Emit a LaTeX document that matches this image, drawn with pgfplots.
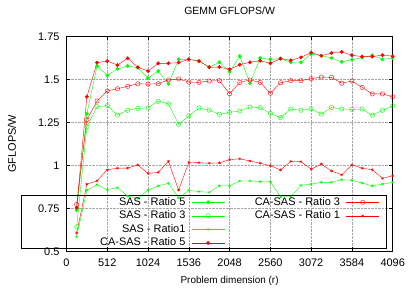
\documentclass[border=0pt]{standalone}
\usepackage{pgfplots}
\pgfplotsset{compat=1.18}
\usepackage{pgfplotstable}
\usepackage{fontspec}
\setmainfont{Liberation Sans}
\definecolor{gg}{RGB}{0,255,0}
\definecolor{rr}{RGB}{255,0,0}

% columns: x, SAS R5, SAS R3, SAS R1, CA-SAS R5, CA-SAS R3, CA-SAS R1
\pgfplotstableread{
x    s5    s3    s1    c5    c3    c1
128  0.740 0.643 0.585 0.754 0.772 0.607
256  1.300 1.224 0.856 1.399 1.265 0.890
384  1.577 1.341 0.887 1.597 1.374 0.910
512  1.523 1.347 0.858 1.606 1.432 0.974
640  1.560 1.292 0.870 1.583 1.445 0.983
768  1.577 1.320 0.821 1.622 1.459 0.984
896  1.567 1.331 0.808 1.570 1.474 1.002
1024 1.507 1.334 0.856 1.548 1.472 0.953
1152 1.547 1.372 0.881 1.593 1.474 0.959
1280 1.473 1.358 0.895 1.593 1.496 1.023
1408 1.616 1.238 0.810 1.597 1.502 0.856
1536 1.616 1.287 0.855 1.616 1.484 1.017
1664 1.606 1.333 0.847 1.606 1.482 1.015
1792 1.571 1.321 0.843 1.571 1.490 1.012
1920 1.599 1.296 0.881 1.571 1.492 1.014
2048 1.544 1.308 0.881 1.558 1.416 1.033
2176 1.635 1.316 0.909 1.585 1.482 1.038
2304 1.477 1.339 0.909 1.599 1.496 1.025
2432 1.624 1.335 0.905 1.608 1.482 1.012
2560 1.616 1.302 0.903 1.593 1.419 0.998
2688 1.620 1.277 0.817 1.620 1.480 0.973
2816 1.599 1.327 0.817 1.610 1.492 1.023
2944 1.599 1.320 0.884 1.628 1.492 1.021
3072 1.647 1.329 0.890 1.655 1.504 0.978
3200 1.637 1.298 0.901 1.637 1.513 1.007
3328 1.624 1.337 0.901 1.653 1.511 0.967
3456 1.601 1.327 0.916 1.659 1.477 0.945
3584 1.614 1.325 0.913 1.640 1.490 1.002
3712 1.626 1.327 0.897 1.632 1.453 0.983
3840 1.640 1.291 0.880 1.632 1.415 0.974
3968 1.616 1.320 0.891 1.641 1.415 0.924
4096 1.624 1.345 0.901 1.634 1.399 0.940
}\datatable

\pgfplotsset{
  sfive/.style={color=gg, line width=0.4bp, mark=*, mark size=1.7bp, mark options={fill=gg, draw=gg}},
  sthree/.style={color=gg, line width=0.4bp, mark=o, mark size=2.2bp, mark options={draw=gg}},
  sone/.style={color=gg, line width=0.4bp, mark=asterisk, mark size=1.5bp},
  cfive/.style={color=rr, line width=0.4bp, mark=*, mark size=1.7bp, mark options={fill=rr, draw=rr}},
  cthree/.style={color=rr, line width=0.4bp, mark=o, mark size=2.2bp, mark options={draw=rr}},
  cone/.style={color=rr, line width=0.4bp, mark=asterisk, mark size=1.5bp},
}

\begin{document}
\begin{tikzpicture}
\path[use as bounding box] (-66.5bp,-39.7bp) rectangle (348.5bp,251.3bp);
\begin{axis}[
  at={(0,0)}, anchor=south west,
  scale only axis,
  width=326.2bp, height=215bp,
  xmin=0, xmax=4096, ymin=0.5, ymax=1.75,
  xtick={0,512,...,4096},
  ytick={0.5,0.75,1,1.25,1.5,1.75},
  scaled x ticks=false,
  /pgf/number format/1000 sep={},
  /pgf/number format/assume math mode=true,
  tick label style={font=\fontsize{11}{13}\selectfont},
  yticklabel style={xshift=-3.5bp},
  xticklabel style={yshift=-4.5bp},
  tick align=inside, tick pos=both,
  major tick length=4bp,
  tick style={black, line width=0.5bp},
  axis line style={black, line width=0.8bp},
  grid=major,
  major grid style={densely dotted, gray!70, line width=0.5bp},
  clip=false,
  title={GEMM GFLOPS/W},
  title style={font=\fontsize{10.5}{13}\selectfont, at={(axis description cs:0.5,1)}, anchor=base, yshift=16bp},
  xlabel={Problem dimension (r)},
  xlabel style={font=\fontsize{11}{13}\selectfont},
  every axis x label/.style={at={(axis description cs:0.5,0)}, anchor=base, yshift=-32.5bp},
  ylabel={GFLOPS/W},
  every axis y label/.style={at={(axis description cs:-0.155,0.5)}, rotate=90, anchor=base, font=\fontsize{11}{13}\selectfont},
  legend columns=2,
  legend cell align=right,
  legend plot pos=right,
  legend image code/.code={\draw[mark repeat=2,mark phase=2,#1] plot coordinates {(0bp,0bp) (16.5bp,0bp) (33bp,0bp)};},
  legend style={draw=none, fill=none, inner sep=0pt, row sep=0pt,
    at={(axis description cs:0.96,0.261)}, anchor=north east,
    font=\fontsize{11}{13}\selectfont,
    nodes={inner xsep=0pt, inner ysep=1.8bp, text height=8bp, text depth=2bp},
    /tikz/every odd column/.append style={column sep=6bp},
    /tikz/every even column/.append style={column sep=30bp}},
]
\addplot[sfive, forget plot] table[x=x, y=s5] {\datatable};
\addplot[sthree, forget plot] table[x=x, y=s3] {\datatable};
\addplot[sone, forget plot] table[x=x, y=s1] {\datatable};
\addplot[cfive, forget plot] table[x=x, y=c5] {\datatable};
\addplot[cthree, forget plot] table[x=x, y=c3] {\datatable};
\addplot[cone, forget plot] table[x=x, y=c1] {\datatable};

\addlegendimage{sfive}\addlegendentry{SAS - Ratio 5}
\addlegendimage{cthree}\addlegendentry{CA-SAS - Ratio 3}
\addlegendimage{sthree}\addlegendentry{SAS - Ratio 3}
\addlegendimage{cone}\addlegendentry{CA-SAS - Ratio 1}
\addlegendimage{sone}\addlegendentry{SAS - Ratio1}
\addlegendimage{empty legend}\addlegendentry{}
\addlegendimage{cfive}\addlegendentry{CA-SAS - Ratio 5}
\addlegendimage{empty legend}\addlegendentry{}

\draw[black, line width=0.8bp] (axis description cs:-0.1373,0.014) rectangle (axis description cs:0.9816,0.262);
\end{axis}
\end{tikzpicture}
\end{document}
